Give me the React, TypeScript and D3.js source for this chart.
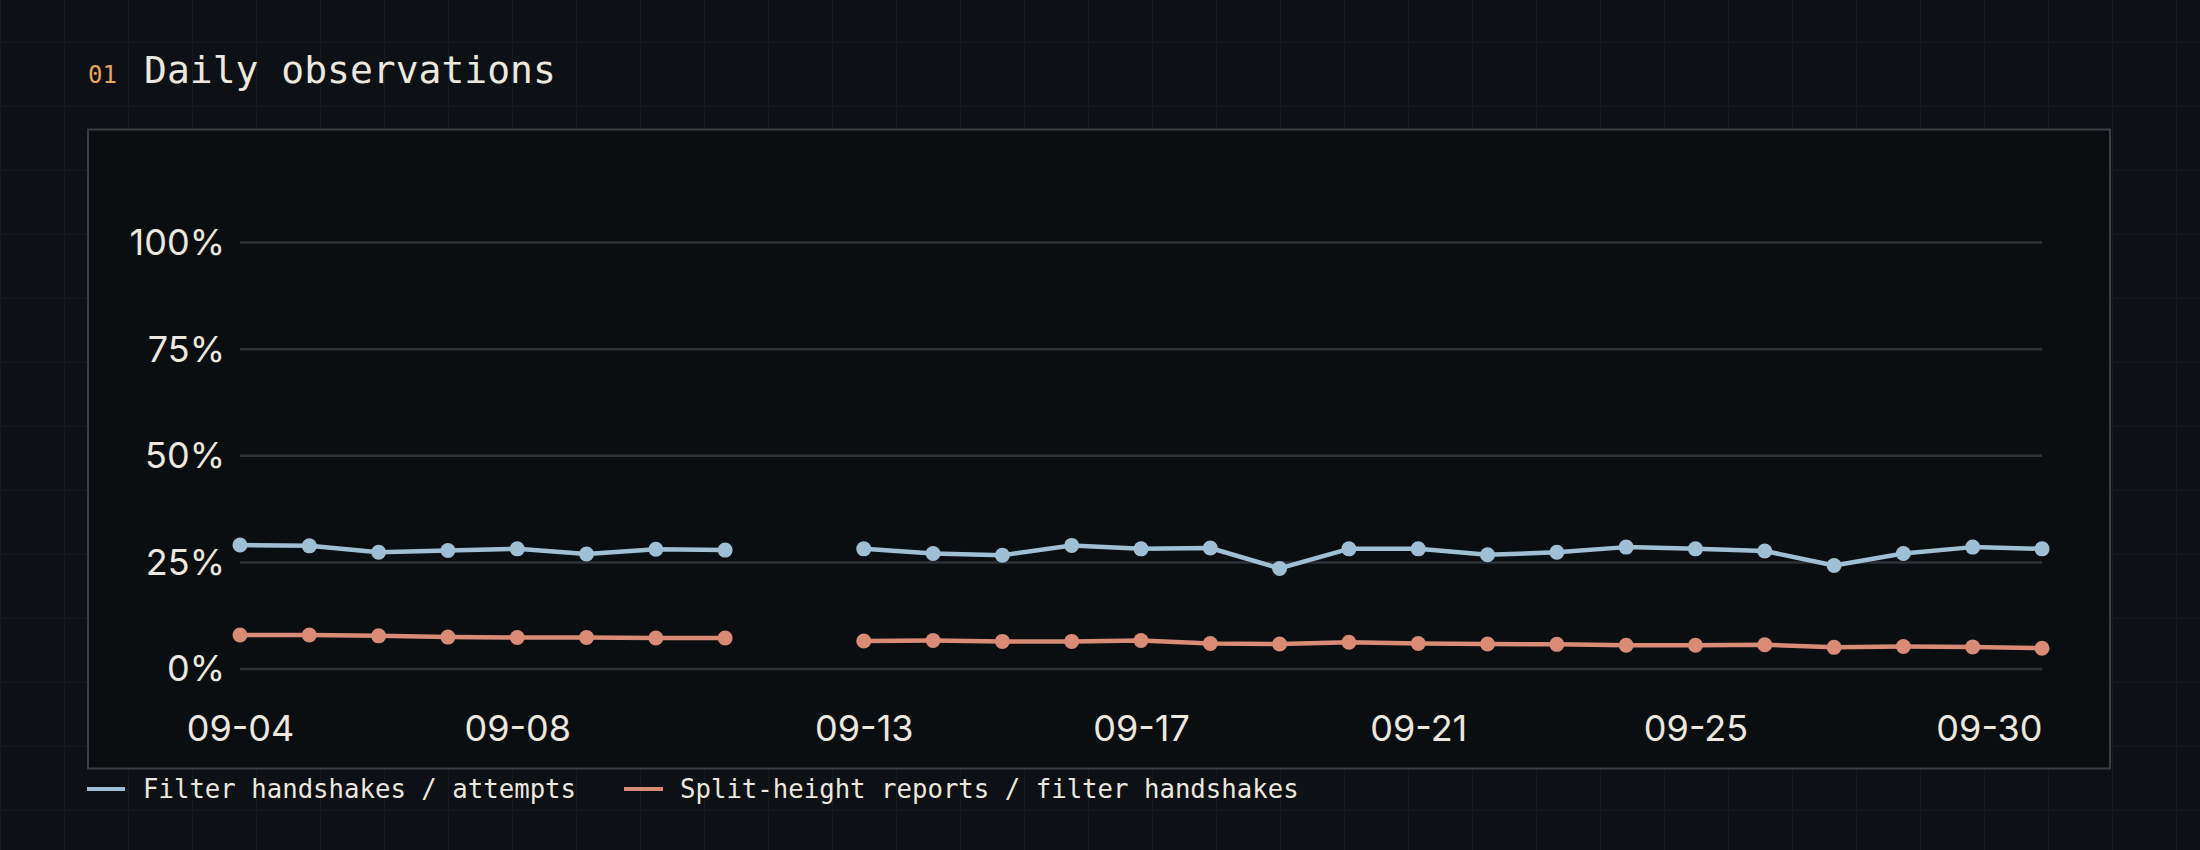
import React, { useEffect, useRef } from "react";
import * as d3 from "d3";

// days on the x axis (09-12 has no observation)
const days = [
  "09-04", "09-05", "09-06", "09-07", "09-08", "09-09", "09-10", "09-11", "09-12",
  "09-13", "09-14", "09-15", "09-16", "09-17", "09-18", "09-19", "09-20", "09-21",
  "09-22", "09-23", "09-24", "09-25", "09-26", "09-27", "09-28", "09-29", "09-30"
];

// Filter handshakes / attempts (%)
const handshakeRate: (number | null)[] = [
  29.1, 28.9, 27.4, 27.8, 28.2, 27.0, 28.1, 27.9, null,
  28.2, 27.1, 26.7, 29.0, 28.2, 28.4, 23.6, 28.2, 28.2,
  26.8, 27.4, 28.6, 28.2, 27.7, 24.3, 27.1, 28.6, 28.2
];

// Split-height reports / filter handshakes (%)
const splitRate: (number | null)[] = [
  8.0, 8.0, 7.8, 7.5, 7.4, 7.4, 7.3, 7.3, null,
  6.6, 6.7, 6.5, 6.5, 6.7, 6.0, 5.9, 6.3, 6.0,
  5.9, 5.8, 5.6, 5.6, 5.7, 5.1, 5.3, 5.2, 4.9
];

const xTickLabels = ["09-04", "09-08", "09-13", "09-17", "09-21", "09-25", "09-30"];
const yTickValues = [0, 25, 50, 75, 100];

const seriesNames = ["Filter handshakes / attempts", "Split-height reports / filter handshakes"];
const seriesColors = ["#9fc0d4", "#d98b75"];

const W = 2200;
const H = 850;
const BG = "#0d1014";
const TEXT = "#ece8df";
const MONO = "'DejaVu Sans Mono', monospace";
const SANS = "Inter, 'Liberation Sans', sans-serif";

const App: React.FC = () => {
  const xAxisRef = useRef<SVGGElement>(null);
  const yAxisRef = useRef<SVGGElement>(null);

  // plot area
  const margin = { left: 240, right: 2042, top: 242.6, bottom: 669.1 };

  const parse = d3.utcParse("%Y-%m-%d");
  const toDate = (d: string) => parse("2024-" + d) as Date;

  const x = d3
    .scaleUtc()
    .domain([toDate(days[0]), toDate(days[days.length - 1])])
    .range([margin.left, margin.right]);
  const y = d3.scaleLinear().domain([0, 100]).range([margin.bottom, margin.top]);

  const series = [handshakeRate, splitRate].map((vals) =>
    days.map((d, i) => ({ date: toDate(d), v: vals[i] }))
  );

  const line = d3
    .line<{ date: Date; v: number | null }>()
    .defined((d) => d.v !== null)
    .x((d) => x(d.date))
    .y((d) => y(d.v as number));

  useEffect(() => {
    if (xAxisRef.current === null || yAxisRef.current === null) return;

    const xAxis = d3
      .axisBottom(x)
      .tickValues(xTickLabels.map(toDate))
      .tickFormat((d) => d3.utcFormat("%m-%d")(d as Date))
      .tickSize(0)
      .tickPadding(0);
    const gx = d3.select(xAxisRef.current).call(xAxis);
    gx.select(".domain").remove();
    gx.selectAll("text")
      .attr("y", 0)
      .attr("dy", 0)
      .attr("fill", TEXT)
      .style("font-family", SANS)
      .style("font-size", "36px");
    // last label is kept inside the plot
    gx.selectAll<SVGTextElement, Date>("text")
      .filter((_, i, n) => i === n.length - 1)
      .attr("text-anchor", "end");

    const yAxis = d3
      .axisLeft(y)
      .tickValues(yTickValues)
      .tickFormat((d) => `${d}%`)
      .tickSize(0)
      .tickPadding(15);
    const gy = d3.select(yAxisRef.current).call(yAxis);
    gy.select(".domain").remove();
    gy.selectAll("text")
      .attr("dy", "0.33em")
      .attr("fill", TEXT)
      .style("font-family", SANS)
      .style("font-size", "36px");
  }, []);

  return (
    <svg
      width={W}
      height={H}
      style={{ position: "absolute", left: 0, top: 0, display: "block", background: BG }}
    >
      <defs>
        <pattern
          id="bg-grid"
          width={64}
          height={64}
          patternUnits="userSpaceOnUse"
          patternTransform="translate(0,42)"
        >
          <path d="M0 0H64M0 0V64" stroke="#161a1f" strokeWidth={2} fill="none" />
        </pattern>
      </defs>
      <rect width={W} height={H} fill={BG} />
      <rect width={W} height={H} fill="url(#bg-grid)" />

      {/* heading */}
      <text x={88} y={83} fill="#eba45c" fontFamily={MONO} fontSize={24}>
        01
      </text>
      <text x={144} y={82.5} fill={TEXT} fontFamily={MONO} fontSize={38}>
        Daily observations
      </text>

      {/* panel */}
      <rect x={88} y={129.5} width={2022} height={639} fill="#0b0e11" stroke="#3a3f44" strokeWidth={2} />

      {/* gridlines */}
      <g>
        {yTickValues.map((t) => (
          <line
            key={t}
            x1={margin.left}
            x2={margin.right}
            y1={y(t)}
            y2={y(t)}
            stroke="#2e3237"
            strokeWidth={2.5}
          />
        ))}
      </g>

      <g ref={yAxisRef} transform={`translate(${margin.left},0)`} />
      <g ref={xAxisRef} transform="translate(0,741)" />

      {/* series */}
      {series.map((s, i) => (
        <g key={i}>
          <path d={line(s) ?? ""} fill="none" stroke={seriesColors[i]} strokeWidth={4.5} strokeLinejoin="round" />
          {s
            .filter((d) => d.v !== null)
            .map((d, j) => (
              <circle key={j} cx={x(d.date)} cy={y(d.v as number)} r={7.5} fill={seriesColors[i]} />
            ))}
        </g>
      ))}

      {/* legend */}
      <g fontFamily={MONO} fontSize={25.7} fill={TEXT}>
        <line x1={87} x2={125} y1={789} y2={789} stroke={seriesColors[0]} strokeWidth={4} />
        <text x={143} y={798}>{seriesNames[0]}</text>
        <line x1={624} x2={663} y1={789} y2={789} stroke={seriesColors[1]} strokeWidth={4} />
        <text x={680} y={798}>{seriesNames[1]}</text>
      </g>
    </svg>
  );
};

export default App;
